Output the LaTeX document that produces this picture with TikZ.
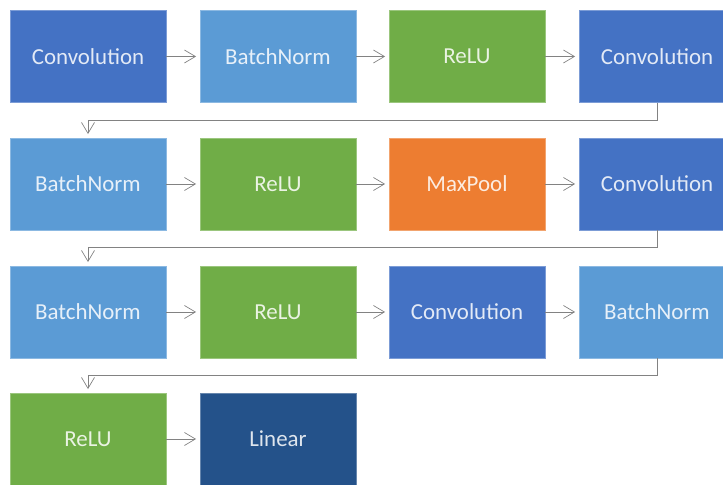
\documentclass[tikz,border=0pt]{standalone}
\usepackage{fontspec}
\setmainfont{Carlito}
\usetikzlibrary{arrows.meta}
\definecolor{convc}{RGB}{68,114,196}
\definecolor{bnc}{RGB}{91,155,213}
\definecolor{reluc}{RGB}{112,173,71}
\definecolor{poolc}{RGB}{237,125,49}
\definecolor{linc}{RGB}{36,82,138}
\definecolor{connc}{RGB}{130,130,130}
\tikzset{
  blk/.style={draw=#1!70!white, line width=0.8bp, fill=#1, minimum width=156bp, minimum height=92bp,
    inner sep=0pt, text=white!85!#1, font=\fontsize{23}{26}\selectfont},
  conn/.style={draw=connc, line width=0.7bp, shorten >=3.5bp, -{Straight Barb[length=11bp,width=13bp]}},
}
\begin{document}
\begin{tikzpicture}[x=1bp,y=1bp]
\useasboundingbox (0,0) rectangle (723,485);
\clip (0,0) rectangle (723,485);
% row 1
\node[blk=convc] (a1) at (88,428.5) {Convolution};
\node[blk=bnc]   (a2) at (278,428.5) {BatchNorm};
\node[blk=reluc] (a3) at (467,428.5) {ReLU};
\node[blk=convc] (a4) at (657,428.5) {Convolution};
% row 2
\node[blk=bnc]   (b1) at (88,301) {BatchNorm};
\node[blk=reluc] (b2) at (278,301) {ReLU};
\node[blk=poolc] (b3) at (467,301) {MaxPool};
\node[blk=convc] (b4) at (657,301) {Convolution};
% row 3
\node[blk=bnc]   (c1) at (88,173) {BatchNorm};
\node[blk=reluc] (c2) at (278,173) {ReLU};
\node[blk=convc] (c3) at (467,173) {Convolution};
\node[blk=bnc]   (c4) at (657,173) {BatchNorm};
% row 4
\node[blk=reluc] (d1) at (88,46) {ReLU};
\node[blk=linc]  (d2) at (278,46) {Linear};
% arrows
\draw[conn] (a1) -- (a2);
\draw[conn] (a2) -- (a3);
\draw[conn] (a3) -- (a4);
\draw[conn] (a4.south) -- ++(0,-17) -| (b1.north);
\draw[conn] (b1) -- (b2);
\draw[conn] (b2) -- (b3);
\draw[conn] (b3) -- (b4);
\draw[conn] (b4.south) -- ++(0,-17) -| (c1.north);
\draw[conn] (c1) -- (c2);
\draw[conn] (c2) -- (c3);
\draw[conn] (c3) -- (c4);
\draw[conn] (c4.south) -- ++(0,-17) -| (d1.north);
\draw[conn] (d1) -- (d2);
\end{tikzpicture}
\end{document}
